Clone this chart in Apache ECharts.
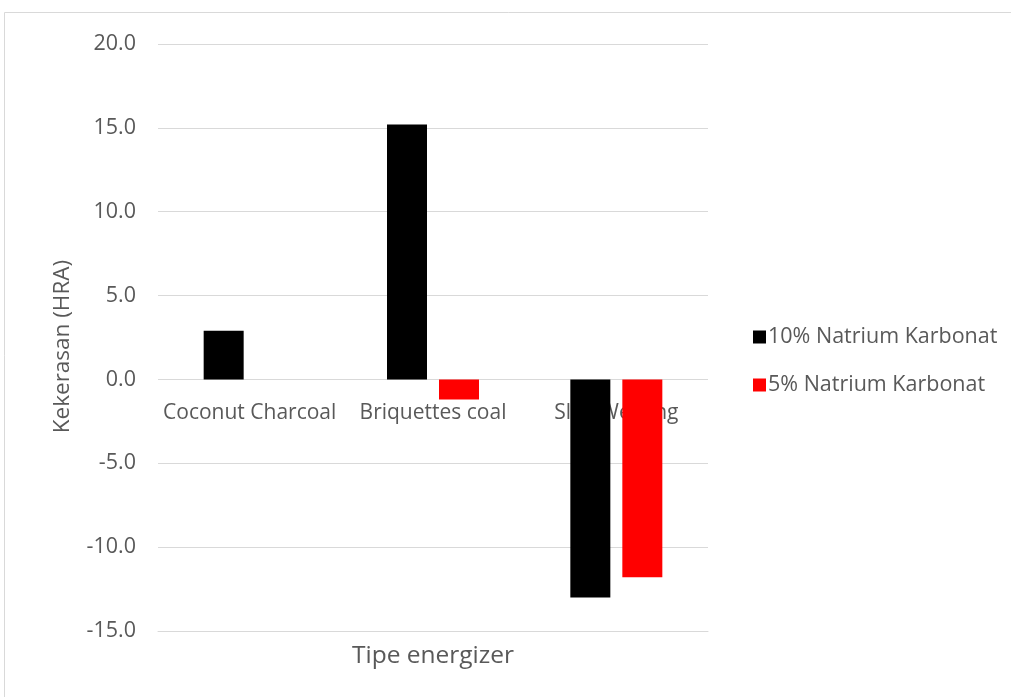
<!DOCTYPE html>
<html>
<head>
<meta charset="utf-8">
<title>Kekerasan (HRA) per tipe energizer</title>
<script src="https://cdn.jsdelivr.net/npm/echarts@6/dist/echarts.min.js"></script>
<style>
  html, body { margin: 0; padding: 0; background: #ffffff; }
  #chart { width: 1011px; height: 697px; }
</style>
</head>
<body>
<div id="chart"></div>
<script>
// Hardness change (HRA) for each energizer type
const categories = ['Coconut Charcoal', 'Briquettes coal', 'Slag Welding'];
const seriesNames = ['10% Natrium Karbonat', '5% Natrium Karbonat'];
const natrium10 = [2.9, 15.2, -13.0];
const natrium5 = [null, -1.2, -11.8];
const yTicks = { min: -15, max: 20, interval: 5 };

const FONT = '"Open Sans", "Liberation Sans", sans-serif';
const TEXT = '#595959';
const GRID = '#d9d9d9';

const chart = echarts.init(document.getElementById('chart'), null, { renderer: 'canvas' });

chart.setOption({
  backgroundColor: '#ffffff',
  animation: false,
  textStyle: { fontFamily: FONT },
  grid: { left: 158, right: 303, top: 44, bottom: 66 },
  legend: {
    orient: 'vertical',
    left: 748,
    top: 321,
    itemWidth: 13,
    itemHeight: 13,
    itemGap: 26,
    icon: 'rect',
    textStyle: { color: TEXT, fontSize: 21.5, fontFamily: FONT, padding: [0, 0, 0, -3] },
    data: seriesNames
  },
  xAxis: {
    type: 'category',
    data: categories,
    axisLine: { onZero: false, lineStyle: { color: GRID, width: 1 } },
    axisTick: { show: false },
    // category names sit just under the zero line (axis drawn at the bottom edge)
    axisLabel: {
      color: TEXT,
      fontSize: 21,
      fontFamily: FONT,
      margin: -228,
      interval: 0,
      hideOverlap: false
    },
    splitLine: { show: false },
    z: 0
  },
  yAxis: {
    type: 'value',
    min: yTicks.min,
    max: yTicks.max,
    interval: yTicks.interval,
    name: 'Kekerasan (HRA)',
    nameLocation: 'middle',
    nameGap: 84,
    nameTextStyle: { color: TEXT, fontSize: 22.5, fontFamily: FONT, padding: [0, 18, 0, 0] },
    axisLine: { show: false },
    axisTick: { show: false },
    axisLabel: {
      color: TEXT,
      fontSize: 21.5,
      fontFamily: FONT,
      margin: 22,
      formatter: v => v.toFixed(1)
    },
    splitLine: { lineStyle: { color: GRID, width: 1 } }
  },
  series: [
    {
      name: seriesNames[0],
      type: 'bar',
      data: natrium10,
      barWidth: 40,
      barGap: '30%',
      itemStyle: { color: '#000000' },
      z: 3
    },
    {
      name: seriesNames[1],
      type: 'bar',
      data: natrium5,
      barWidth: 40,
      barGap: '30%',
      itemStyle: { color: '#ff0000' },
      z: 3
    }
  ],
  graphic: [
    {
      type: 'rect',
      shape: { x: 4.5, y: 12.5, width: 1030, height: 720 },
      style: { fill: 'none', stroke: '#d9d9d9', lineWidth: 1 },
      silent: true,
      z: -1
    },
    {
      type: 'text',
      x: 433,
      y: 656,
      style: {
        text: 'Tipe energizer',
        fill: TEXT,
        font: '24.5px "Open Sans", "Liberation Sans", sans-serif',
        textAlign: 'center',
        textVerticalAlign: 'middle'
      },
      silent: true
    }
  ]
});
</script>
</body>
</html>
